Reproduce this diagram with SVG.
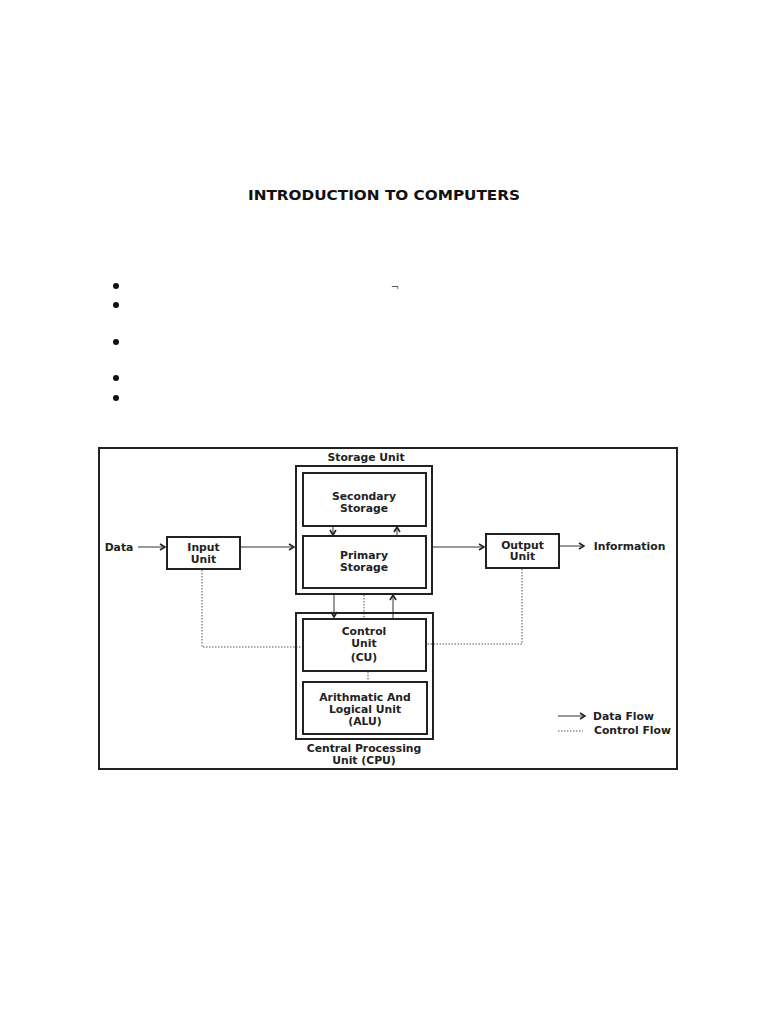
<svg xmlns="http://www.w3.org/2000/svg" width="768" height="1024" viewBox="0 0 768 1024">
<defs>
<style>
.t{font-family:"DejaVu Sans",Verdana,sans-serif;font-weight:bold;font-size:10.8px;fill:#222;text-anchor:middle}
.box{fill:none;stroke:#222;stroke-width:2}
.ln{fill:none;stroke:#333;stroke-width:1}
.dot{fill:none;stroke:#555;stroke-width:1;stroke-dasharray:1.5 1.5}
</style>
<marker id="ah" viewBox="0 0 8 8" refX="7" refY="4" markerWidth="8" markerHeight="8" markerUnits="userSpaceOnUse" orient="auto">
<path d="M2,1 L7,4 L2,7" fill="none" stroke="#222" stroke-width="1.6"/>
</marker>
</defs>
<rect width="768" height="1024" fill="#fff"/>
<text x="384" y="200" font-family="'DejaVu Sans',Verdana,sans-serif" font-weight="bold" font-size="14.5" fill="#111" text-anchor="middle" textLength="272" lengthAdjust="spacingAndGlyphs">INTRODUCTION TO COMPUTERS</text>
<g id="bullets" fill="#111">
<circle cx="116" cy="286" r="3"/>
<circle cx="116" cy="305" r="3"/>
<circle cx="116" cy="342" r="3"/>
<circle cx="116" cy="378" r="3"/>
<circle cx="116" cy="398" r="3"/>
</g>
<text x="395" y="291" font-family="'DejaVu Sans',sans-serif" font-size="10" fill="#555" text-anchor="middle">¬</text>
<rect id="frame" x="99" y="448" width="578" height="321" class="box"/>
<g id="connectors">
<line x1="138" y1="547" x2="165" y2="547" class="ln" marker-end="url(#ah)"/>
<line x1="241" y1="547" x2="294" y2="547" class="ln" marker-end="url(#ah)"/>
<line x1="433" y1="547" x2="484" y2="547" class="ln" marker-end="url(#ah)"/>
<line x1="560" y1="546" x2="584" y2="546" class="ln" marker-end="url(#ah)"/>
<line x1="333" y1="527" x2="333" y2="535" class="ln" marker-end="url(#ah)"/>
<line x1="397" y1="535" x2="397" y2="527" class="ln" marker-end="url(#ah)"/>
<line x1="334" y1="595" x2="334" y2="617" class="ln" marker-end="url(#ah)"/>
<line x1="393" y1="618" x2="393" y2="595" class="ln" marker-end="url(#ah)"/>
<line x1="364" y1="595" x2="364" y2="618" class="dot"/>
<polyline points="202,570 202,647 302,647" class="dot"/>
<polyline points="522,569 522,644 427,644" class="dot"/>
<line x1="368" y1="672" x2="368" y2="682" class="dot"/>
<line x1="558" y1="716" x2="585" y2="716" class="ln" marker-end="url(#ah)"/>
<line x1="558" y1="731" x2="583" y2="731" class="dot"/>
</g>
<g id="data"><text x="119" y="551" class="t">Data</text></g>
<g id="input-unit">
<rect x="167" y="537" width="73" height="32" class="box"/>
<text x="203.5" y="551" class="t">Input</text>
<text x="203.5" y="563" class="t">Unit</text>
</g>
<g id="storage-unit">
<text x="366" y="461" class="t">Storage Unit</text>
<rect x="296" y="466" width="136" height="128" class="box"/>
</g>
<g id="secondary-storage">
<rect x="303" y="473" width="123" height="53" class="box"/>
<text x="364" y="500" class="t">Secondary</text>
<text x="364" y="512" class="t">Storage</text>
</g>
<g id="primary-storage">
<rect x="303" y="536" width="123" height="52" class="box"/>
<text x="364" y="559" class="t">Primary</text>
<text x="364" y="571" class="t">Storage</text>
</g>
<g id="output-unit">
<rect x="486" y="534" width="73" height="34" class="box"/>
<text x="522.5" y="549" class="t">Output</text>
<text x="522.5" y="560" class="t">Unit</text>
</g>
<g id="information"><text x="629.5" y="550" class="t">Information</text></g>
<g id="cpu">
<rect x="296" y="613" width="137" height="126" class="box"/>
<text x="364" y="752" class="t">Central Processing</text>
<text x="364" y="764" class="t">Unit (CPU)</text>
</g>
<g id="control-unit">
<rect x="303" y="619" width="123" height="52" class="box"/>
<text x="364" y="635" class="t">Control</text>
<text x="364" y="647" class="t">Unit</text>
<text x="364" y="661" class="t">(CU)</text>
</g>
<g id="alu">
<rect x="303" y="682" width="124" height="52" class="box"/>
<text x="365" y="701" class="t">Arithmatic And</text>
<text x="365" y="713" class="t">Logical Unit</text>
<text x="365" y="725" class="t">(ALU)</text>
</g>
<g id="legend">
<text x="593" y="720" class="t" style="text-anchor:start">Data Flow</text>
<text x="594" y="734" class="t" style="text-anchor:start">Control Flow</text>
</g>
</svg>
